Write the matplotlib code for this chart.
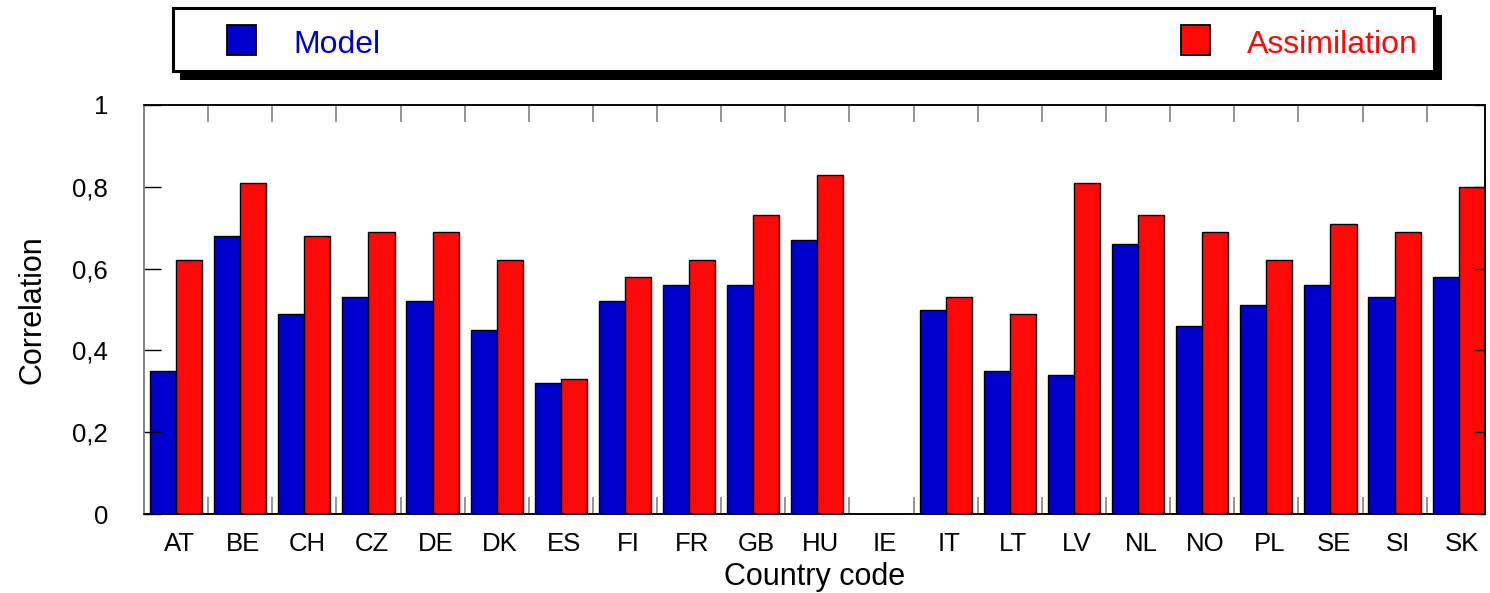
import matplotlib
matplotlib.use("Agg")
from matplotlib import pyplot as plt
from matplotlib.patches import Rectangle
import numpy as np

plt.rcParams['font.family'] = ['Liberation Sans', 'DejaVu Sans']

# Correlation per country, model run vs assimilation run (IE has no data)
countries = ['AT', 'BE', 'CH', 'CZ', 'DE', 'DK', 'ES', 'FI', 'FR', 'GB', 'HU',
             'IE', 'IT', 'LT', 'LV', 'NL', 'NO', 'PL', 'SE', 'SI', 'SK']
model = [0.35, 0.68, 0.49, 0.53, 0.52, 0.45, 0.32, 0.52, 0.56, 0.56, 0.67,
         0.0, 0.50, 0.35, 0.34, 0.66, 0.46, 0.51, 0.56, 0.53, 0.58]
assim = [0.62, 0.81, 0.68, 0.69, 0.69, 0.62, 0.33, 0.58, 0.62, 0.73, 0.83,
         0.0, 0.53, 0.49, 0.81, 0.73, 0.69, 0.62, 0.71, 0.69, 0.80]
yticks = [0, 0.2, 0.4, 0.6, 0.8, 1]
ylabels = ['0', '0,2', '0,4', '0,6', '0,8', '1']

blue = '#0000cc'
red = '#ff0808'

W, H = 1490, 593
fig = plt.figure(figsize=(W / 100, H / 100), dpi=100)


def fx(px):
    return px / W


def fy(py):
    return 1 - py / H


# axes box in pixels: left 144, right 1485, top 105, bottom 514
ax = fig.add_axes([fx(144), fy(514), fx(1485 - 144), (514 - 105) / H])

x = np.arange(len(countries))
bw = 0.407
ax.bar(x + 0.5, model, width=-bw, align='edge', color=blue,
       edgecolor='black', linewidth=1.0)
ax.bar(x + 0.5, assim, width=bw, align='edge', color=red,
       edgecolor='black', linewidth=1.0)

ax.set_xlim(0, 20.91)
ax.set_ylim(0, 1)

# group boundaries as short ticks top and bottom
ax.set_xticks(np.arange(1, len(countries)), minor=True)
ax.set_xticks(x + 0.55)
ax.set_xticklabels(countries, fontsize=18.5)
ax.tick_params(axis='x', which='major', length=0, pad=13)
ax.tick_params(axis='x', which='minor', direction='in', length=12,
               color='#808080', width=1.2, top=True, bottom=True)

ax.set_yticks(yticks)
ax.set_yticklabels(ylabels, fontsize=18.5)
ax.tick_params(axis='y', direction='in', length=12, width=1.0, pad=26,
               color='black')

ax2 = ax.twinx()
ax2.set_ylim(0, 1)
ax2.set_yticks(yticks)
ax2.tick_params(axis='y', direction='in', length=8, width=1.0,
                labelright=False)

for a in (ax, ax2):
    for s in a.spines.values():
        s.set_linewidth(1.1)
    a.spines['left'].set_color('#808080')

ax.set_ylabel('Correlation', fontsize=22, labelpad=18)
ax.set_xlabel('Country code', fontsize=22, labelpad=4)

# legend box with drop shadow, drawn in figure pixels
fig.patches.append(Rectangle((fx(180), fy(80)), fx(1262), (80 - 15) / H,
                             transform=fig.transFigure, facecolor='black',
                             edgecolor='none'))
fig.patches.append(Rectangle((fx(173), fy(71)), fx(1261), (71 - 8) / H,
                             transform=fig.transFigure, facecolor='white',
                             edgecolor='black', linewidth=2.2))
fig.patches.append(Rectangle((fx(227), fy(55)), fx(29), 30 / H,
                             transform=fig.transFigure, facecolor=blue,
                             edgecolor='black', linewidth=1.3))
fig.patches.append(Rectangle((fx(1181), fy(55)), fx(29), 30 / H,
                             transform=fig.transFigure, facecolor=red,
                             edgecolor='black', linewidth=1.3))
fig.text(fx(293), fy(53), 'Model', color=blue, fontsize=23,
         ha='left', va='baseline')
fig.text(fx(1247), fy(53), 'Assimilation', color=red, fontsize=23,
         ha='left', va='baseline')

fig.savefig('out.png', dpi=100)
